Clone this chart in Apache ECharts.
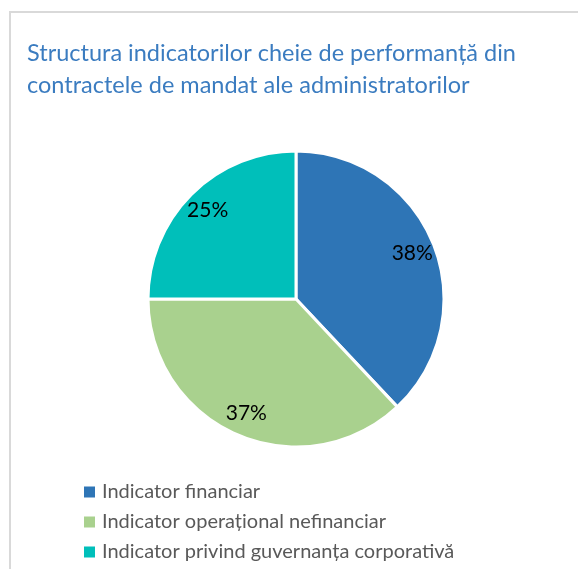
<!DOCTYPE html>
<html>
<head>
<meta charset="utf-8">
<script src="https://cdn.jsdelivr.net/npm/echarts@6/dist/echarts.min.js"></script>
<style>
  html, body { margin: 0; padding: 0; background: #fff; overflow: hidden; }
  #frame { position: absolute; left: 9px; top: 11px; width: 700px; height: 700px; border: 2px solid #d9d9d9; }
  #chart { position: absolute; left: 0; top: 0; width: 578px; height: 700px; }
</style>
</head>
<body>
<div id="frame"></div>
<div id="chart"></div>
<script>
const titleText = 'Structura indicatorilor cheie de performanță din\ncontractele de mandat ale administratorilor'
const categories = ['Indicator financiar', 'Indicator operațional nefinanciar', 'Indicator privind guvernanța corporativă']
const values = [38, 37, 25]
const colors = ['#2E75B6', '#A9D18E', '#00BFBA']

const chart = echarts.init(document.getElementById('chart'), null, { renderer: 'canvas' })

const pieData = categories.map((name, i) => ({ name, value: values[i], itemStyle: { color: colors[i] } }))

chart.setOption({
  backgroundColor: 'transparent',
  animation: false,
  title: {
    text: titleText,
    left: 22,
    top: 32,
    textStyle: { color: '#3B7CC0', fontSize: 23.5, fontWeight: 'normal', fontFamily: 'Lato', lineHeight: 32 },
  },
  legend: {
    orient: 'vertical',
    left: 77,
    top: 477,
    itemWidth: 13,
    itemHeight: 13,
    itemGap: 10,
    icon: 'rect',
    textStyle: { color: '#595959', fontSize: 20, fontFamily: 'Lato', padding: [0, 0, 0, 1] },
    data: categories,
  },
  series: [
    {
      type: 'pie',
      center: [296, 299],
      radius: [0, 148],
      startAngle: 90,
      clockwise: true,
      label: { show: false },
      labelLine: { show: false },
      itemStyle: { borderColor: '#fff', borderWidth: 3 },
      data: pieData,
    },
    {
      // transparent ring used only to place the percent labels near the rim
      type: 'pie',
      center: [296, 299],
      radius: [96, 148],
      startAngle: 90,
      clockwise: true,
      silent: true,
      legendHoverLink: false,
      itemStyle: { color: 'transparent' },
      label: {
        show: true,
        position: 'inside',
        formatter: (p) => p.value + '%',
        color: '#000',
        fontSize: 21,
        fontFamily: 'Lato',
      },
      labelLine: { show: false },
      data: categories.map((name, i) => ({ name: name + ' ', value: values[i] })),
    },
  ],
})
</script>
</body>
</html>
